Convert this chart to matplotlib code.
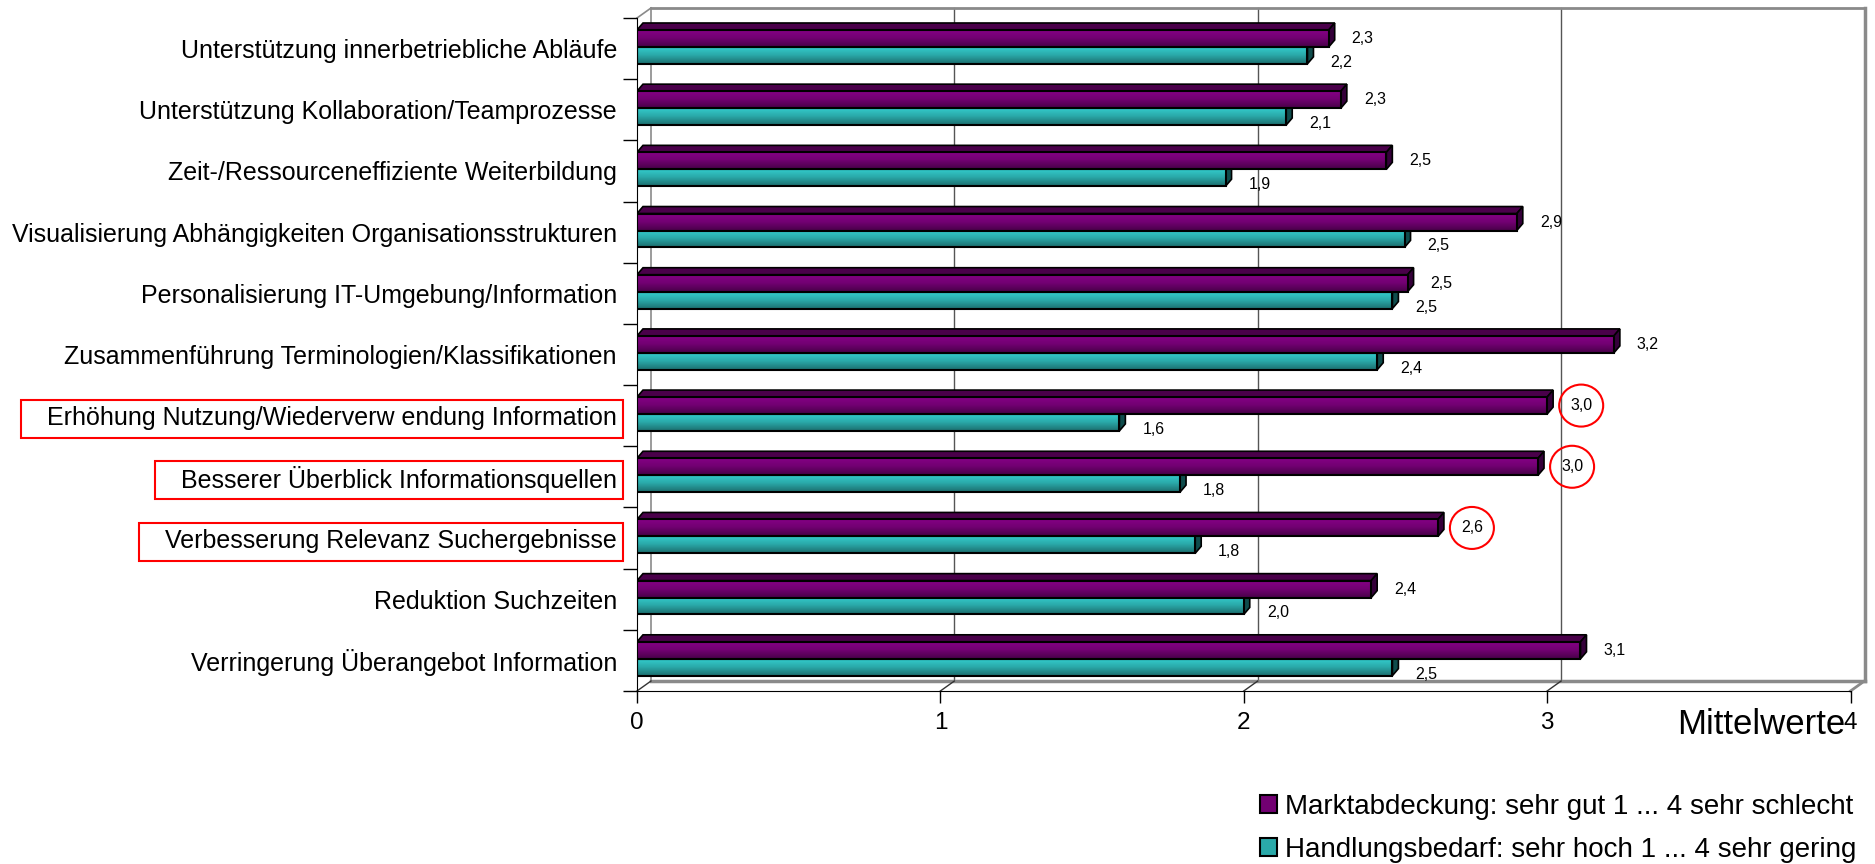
import numpy as np
import matplotlib
matplotlib.use("Agg")
import matplotlib.pyplot as plt
from matplotlib.patches import Polygon, Rectangle, Ellipse
from matplotlib.colors import LinearSegmentedColormap

plt.rcParams['font.family'] = ['Liberation Sans', 'DejaVu Sans']

# Data (top to bottom, as in the chart)
categories = [
    "Unterstützung innerbetriebliche Abläufe",
    "Unterstützung Kollaboration/Teamprozesse",
    "Zeit-/Ressourceneffiziente Weiterbildung",
    "Visualisierung Abhängigkeiten Organisationsstrukturen",
    "Personalisierung IT-Umgebung/Information",
    "Zusammenführung Terminologien/Klassifikationen",
    "Erhöhung Nutzung/Wiederverw endung Information",
    "Besserer Überblick Informationsquellen",
    "Verbesserung Relevanz Suchergebnisse",
    "Reduktion Suchzeiten",
    "Verringerung Überangebot Information",
]
marktabdeckung = [2.28, 2.32, 2.47, 2.90, 2.54, 3.22, 3.00, 2.97, 2.64, 2.42, 3.11]
handlungsbedarf = [2.21, 2.14, 1.94, 2.53, 2.49, 2.44, 1.59, 1.79, 1.84, 2.00, 2.49]
highlighted = [6, 7, 8]
xticks = [0, 1, 2, 3, 4]
legend_labels = ["Marktabdeckung: sehr gut 1 ... 4 sehr schlecht",
                 "Handlungsbedarf: sehr hoch 1 ... 4 sehr gering"]

W, H = 1875, 864
fig = plt.figure(figsize=(W / 100, H / 100), dpi=100)
ax_l, ax_b, ax_w, ax_h = 637, 691, 1213.5, 673
ax = fig.add_axes([ax_l / W, 1 - ax_b / H, ax_w / W, ax_h / H])
n = len(categories)
ax.set_xlim(0, 4)
ax.set_ylim(n - 0.5, -0.5)
ax.set_autoscale_on(False)

px_x = ax_w / 4
px_y = ax_h / n
wdx, wdy = 14 / px_x, 10 / px_y     # depth of the back wall
bdx, bdy = 6 / px_x, 7 / px_y       # depth of the bars
top, bot = -0.5, n - 0.5

# back wall + floor
grey = "#8a8a8a"
for v in xticks[1:-1]:
    ax.plot([v + wdx] * 2, [top - wdy, bot - wdy], color="#555555", lw=1, zorder=1, clip_on=False)
ax.plot([wdx, wdx], [top - wdy, bot - wdy], color=grey, lw=1.2, zorder=1, clip_on=False)
ax.plot([wdx, 4 + wdx], [top - wdy, top - wdy], color=grey, lw=2, zorder=1, clip_on=False)
ax.plot([4 + wdx, 4 + wdx], [top - wdy, bot - wdy], color=grey, lw=2.5, zorder=1, clip_on=False)
ax.plot([wdx, 4 + wdx], [bot - wdy, bot - wdy], color=grey, lw=2.5, zorder=1, clip_on=False)
ax.plot([0, wdx], [top, top - wdy], color=grey, lw=1.2, zorder=1, clip_on=False)
for v in xticks:
    ax.plot([v, v + wdx], [bot, bot - wdy], color="#333333" if v < 4 else grey,
            lw=1 if v < 4 else 2, zorder=1, clip_on=False)

# bars
h = 0.278
series = [
    (handlungsbedarf, 0.11, ["#35d0d0", "#2aa9a9", "#1c6e6e"], "#2a9f9f", "#0f4c4c", 2, -7),
    (marktabdeckung, -0.165, ["#870087", "#720072", "#470047"], "#4a004a", "#35003a", 4, 0),
]
label_texts = {}
for vals, off, grad_cols, top_col, side_col, z, lab_dy in series:
    cmap = LinearSegmentedColormap.from_list("g", grad_cols)
    grad = np.linspace(0, 1, 64).reshape(-1, 1)
    ys = np.arange(n) + off
    bars = ax.barh(ys, vals, height=h, facecolor="none", edgecolor="black", lw=1.5, zorder=z + 0.5)
    for i, (rect, v) in enumerate(zip(bars, vals)):
        y0, y1 = ys[i] - h / 2, ys[i] + h / 2
        ax.add_patch(Polygon([(0, y0), (v, y0), (v + bdx, y0 - bdy), (bdx, y0 - bdy)],
                             closed=True, facecolor=top_col, edgecolor="black", lw=1.2, zorder=z))
        ax.add_patch(Polygon([(v, y0), (v + bdx, y0 - bdy), (v + bdx, y1 - bdy), (v, y1)],
                             closed=True, facecolor=side_col, edgecolor="black", lw=1.2, zorder=z))
        im = ax.imshow(grad, cmap=cmap, extent=(0, v, y1, y0), origin="upper",
                       aspect="auto", zorder=z + 0.2, interpolation="bilinear")
        im.set_clip_path(rect)
        t = ax.annotate(f"{v:.1f}".replace(".", ","), xy=(v + bdx, ys[i]),
                        xytext=(17, lab_dy), textcoords="offset pixels",
                        ha="left", va="center", fontsize=11.5, zorder=6)
        if off < 0:
            label_texts[i] = t

ax.set_xlim(0, 4)
ax.set_ylim(n - 0.5, -0.5)

# axes styling
for s in ["top", "right"]:
    ax.spines[s].set_visible(False)
ax.spines["left"].set_color("black")
ax.spines["bottom"].set_color("black")
ax.set_xticks(xticks)
ax.set_xticklabels([str(v) for v in xticks], fontsize=17.5)
ax.tick_params(axis="x", length=8.6, width=1, pad=6.5, color="black")
ax.set_yticks(np.arange(n))
ax.set_yticklabels(categories, fontsize=18)
ax.set_yticks(np.arange(-0.5, n, 1), minor=True)
ax.tick_params(axis="y", which="major", length=0, pad=14.4)
ax.tick_params(axis="y", which="minor", length=10, width=1, color="black")

ax.annotate("Mittelwerte", xy=(4, 0), xycoords=("data", "axes fraction"),
            xytext=(-5, -34), textcoords="offset pixels", ha="right", va="center", fontsize=25)

# legend
handles = [Rectangle((0, 0), 1, 1, facecolor="#720072", edgecolor="black", lw=1.5),
           Rectangle((0, 0), 1, 1, facecolor="#2aa9a9", edgecolor="black", lw=1.5)]
fig.legend(handles, legend_labels, loc="upper left", bbox_to_anchor=(1260 / W, 1 - 794 / H),
           frameon=False, fontsize=20, handlelength=0.6, handleheight=0.6,
           handletextpad=0.3, labelspacing=0.6, borderaxespad=0, borderpad=0)

# red highlights
fig.canvas.draw()
ylabels = ax.get_yticklabels()
for i in highlighted:
    bb = ylabels[i].get_window_extent()
    yc = (bb.y0 + bb.y1) / 2
    fig.add_artist(Rectangle(((bb.x0 - 26) / W, (yc - 20) / H), (bb.x1 - bb.x0 + 32) / W, 38 / H,
                             transform=fig.transFigure, fill=False, edgecolor="red", lw=1.5))
    tb = label_texts[i].get_window_extent()
    fig.add_artist(Ellipse(((tb.x0 + tb.x1) / 2 / W, (tb.y0 + tb.y1) / 2 / H), 44 / W, 42 / H,
                           transform=fig.transFigure, fill=False, edgecolor="red", lw=1.5))

fig.savefig("out.png", dpi=100)
